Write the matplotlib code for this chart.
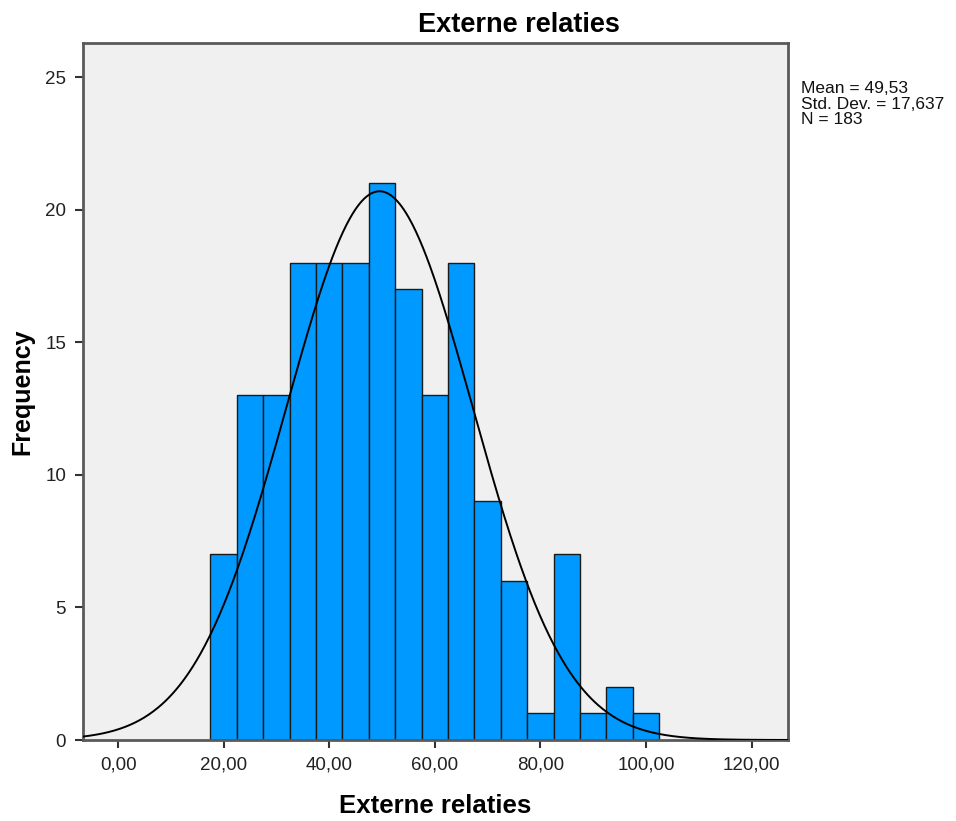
import matplotlib

matplotlib.use("Agg")
import matplotlib.pyplot as plt
import numpy as np

plt.rcParams["font.family"] = ["Liberation Sans", "DejaVu Sans"]

# histogram of the "Externe relaties" scale, bins of width 5
bin_centers = [20, 25, 30, 35, 40, 45, 50, 55, 60, 65, 70, 75, 80, 85, 90, 95, 100]
counts = [7, 13, 13, 18, 18, 18, 21, 17, 13, 18, 9, 6, 1, 7, 1, 2, 1]
bin_width = 5.0

mean = 49.53
std_dev = 17.637
n_cases = 183

x_ticks = [0, 20, 40, 60, 80, 100, 120]
x_tick_labels = ["0,00", "20,00", "40,00", "60,00", "80,00", "100,00", "120,00"]
y_ticks = [0, 5, 10, 15, 20, 25]

W, H = 956, 821
fig = plt.figure(figsize=(W / 100, H / 100), dpi=100)
ax = fig.add_axes([82.7 / W, 1 - 740 / H, (788 - 82.7) / W, (740 - 42.7) / H])
ax.set_facecolor("#f0f0f0")

ax.bar(bin_centers, counts, width=bin_width, align="center",
       color="#0099ff", edgecolor="#1a1a1a", linewidth=1.0, zorder=2)

# normal curve scaled to the histogram counts
xs = np.linspace(-6.7, 126.9, 600)
ys = n_cases * bin_width / (std_dev * np.sqrt(2 * np.pi)) * np.exp(-0.5 * ((xs - mean) / std_dev) ** 2)
ax.plot(xs, ys, color="black", linewidth=1.4, zorder=3)

ax.set_xlim(-6.7, 126.9)
ax.set_ylim(0, 26.3)
ax.set_xticks(x_ticks, labels=x_tick_labels)
ax.set_yticks(y_ticks)
ax.tick_params(axis="both", direction="out", length=6, width=1.5, color="#333333",
               labelsize=13.5, labelcolor="#222222", pad=6)

for spine in ax.spines.values():
    spine.set_color("#5a5a5a")
    spine.set_linewidth(2.0)

# title is centred over the plot plus the statistics column
fig.text((82.7 + W) / 2 / W, 1 - 32 / H, "Externe relaties", fontsize=19.5,
         fontweight="bold", ha="center", va="baseline")

ax.set_xlabel("Externe relaties", fontsize=18.5, fontweight="bold")
ax.xaxis.label.set_va("baseline")
ax.xaxis.set_label_coords(0.5, (740 - 813) / (740 - 42.7))
ax.set_ylabel("Frequency", fontsize=18, fontweight="bold")
ax.yaxis.set_label_coords((34 - 82.7) / (788 - 82.7), 0.5)

stats_lines = [
    "Mean = " + f"{mean:.2f}".replace(".", ","),
    "Std. Dev. = " + f"{std_dev:.3f}".replace(".", ","),
    "N = " + str(n_cases),
]
for i, line in enumerate(stats_lines):
    fig.text(801 / W, 1 - (93 + 15.7 * i) / H, line, fontsize=12.5,
             ha="left", va="baseline", color="#111111")

fig.savefig("out.png", dpi=100)
plt.close(fig)
